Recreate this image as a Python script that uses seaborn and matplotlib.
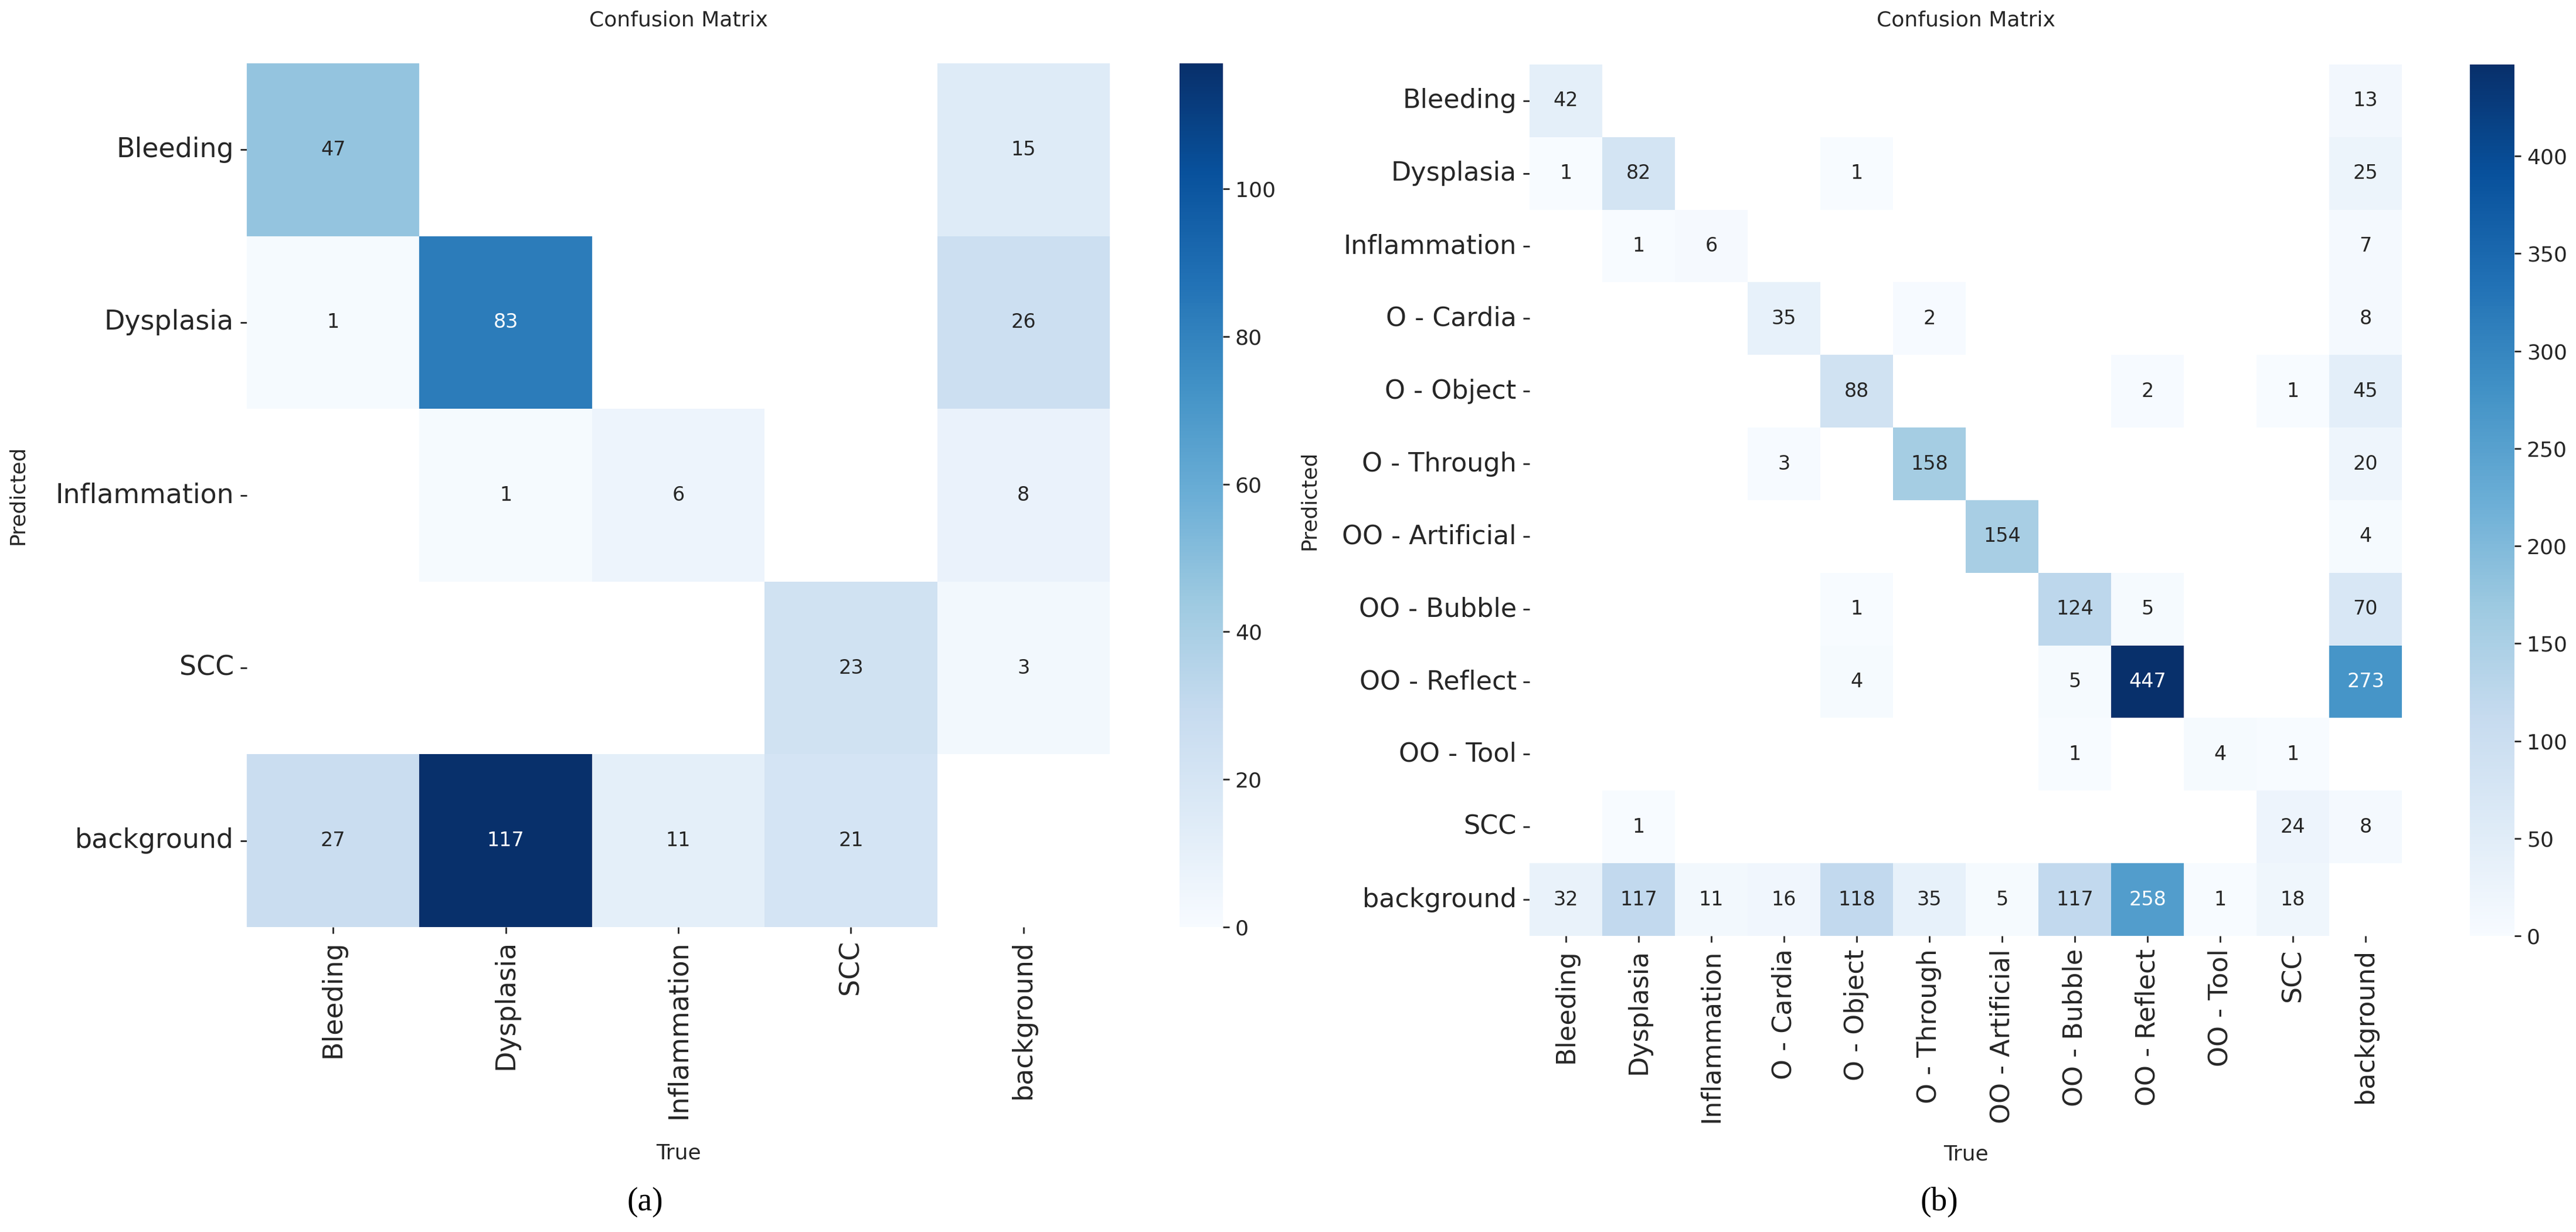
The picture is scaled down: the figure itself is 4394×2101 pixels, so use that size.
"""
Confusion matrices for the 5-class (a) and 12-class (b) detectors.
"""

import numpy as np
import pandas as pd
import matplotlib
matplotlib.use('Agg')
import matplotlib.pyplot as plt
import seaborn as sns

# ---------------------------------------------------------------------------
# Data (rows = Predicted, columns = True), 0 = empty cell
# ---------------------------------------------------------------------------
labels_a = ['Bleeding', 'Dysplasia', 'Inflammation', 'SCC', 'background']
cm_a = [
    [47, 0, 0, 0, 15],
    [1, 83, 0, 0, 26],
    [0, 1, 6, 0, 8],
    [0, 0, 0, 23, 3],
    [27, 117, 11, 21, 0],
]

labels_b = ['Bleeding', 'Dysplasia', 'Inflammation', 'O - Cardia', 'O - Object',
            'O - Through', 'OO - Artificial', 'OO - Bubble', 'OO - Reflect',
            'OO - Tool', 'SCC', 'background']
cm_b = [
    [42, 0, 0, 0, 0, 0, 0, 0, 0, 0, 0, 13],
    [1, 82, 0, 0, 1, 0, 0, 0, 0, 0, 0, 25],
    [0, 1, 6, 0, 0, 0, 0, 0, 0, 0, 0, 7],
    [0, 0, 0, 35, 0, 2, 0, 0, 0, 0, 0, 8],
    [0, 0, 0, 0, 88, 0, 0, 0, 2, 0, 1, 45],
    [0, 0, 0, 3, 0, 158, 0, 0, 0, 0, 0, 20],
    [0, 0, 0, 0, 0, 0, 154, 0, 0, 0, 0, 4],
    [0, 0, 0, 0, 1, 0, 0, 124, 5, 0, 0, 70],
    [0, 0, 0, 0, 4, 0, 0, 5, 447, 0, 0, 273],
    [0, 0, 0, 0, 0, 0, 0, 1, 0, 4, 1, 0],
    [0, 1, 0, 0, 0, 0, 0, 0, 0, 0, 24, 8],
    [32, 117, 11, 16, 118, 35, 5, 117, 258, 1, 18, 0],
]

sns.set_theme(style='white')
plt.rcParams['font.family'] = ['DejaVu Sans']

W, H = 4394, 2101
DPI = 200


def px_box(x0, y0, x1, y1):
    """Pixel box (top-left origin) -> figure fraction rect."""
    return [x0 / W, 1 - y1 / H, (x1 - x0) / W, (y1 - y0) / H]


def draw_cm(fig, matrix, labels, hm_box, cb_box, title_y, xlab_y, ylab_x,
            tick_size=16):
    df = pd.DataFrame(np.array(matrix, dtype=float), index=labels, columns=labels)
    df = df.replace(0, np.nan)

    ax = fig.add_axes(px_box(*hm_box))
    cax = fig.add_axes(px_box(*cb_box))

    sns.heatmap(df, ax=ax, cbar_ax=cax, annot=True, annot_kws={'size': 12},
                fmt='.0f', cmap='Blues', vmin=0,
                xticklabels=labels, yticklabels=labels)
    ax.set_facecolor('white')

    ax.set_xticklabels(labels, rotation=90, fontsize=tick_size)
    ax.set_yticklabels(labels, rotation=0, fontsize=tick_size)
    ax.tick_params(bottom=True, left=True, length=4, width=1, pad=4,
                   color='0.15')

    ax.set_title('Confusion Matrix', fontsize=13, y=title_y, pad=0)
    ax.set_xlabel('True', fontsize=13)
    ax.set_ylabel('Predicted', fontsize=13)
    ax.xaxis.set_label_coords(0.5, xlab_y)
    ax.yaxis.set_label_coords(ylab_x, 0.5)

    cax.tick_params(right=True, length=4, width=1, labelsize=13, color='0.15')
    return ax


fig = plt.figure(figsize=(W / DPI, H / DPI), dpi=DPI)

draw_cm(fig, cm_a, labels_a,
        hm_box=(421, 108, 1893, 1581), cb_box=(2012, 108, 2086, 1581),
        title_y=1.043, xlab_y=-0.250, ylab_x=-0.254, tick_size=16.5)
draw_cm(fig, cm_b, labels_b,
        hm_box=(2609, 110, 4097, 1596), cb_box=(4213, 110, 4289, 1596),
        title_y=1.044, xlab_y=-0.239, ylab_x=-0.241, tick_size=16)

fig.text(1100 / W, 1 - 2050 / H, '(a)', ha='center', va='center',
         fontsize=20, family='Liberation Serif', color='black')
fig.text(3308 / W, 1 - 2050 / H, '(b)', ha='center', va='center',
         fontsize=20, family='Liberation Serif', color='black')

plt.savefig('out.png', dpi=DPI)
plt.close()
